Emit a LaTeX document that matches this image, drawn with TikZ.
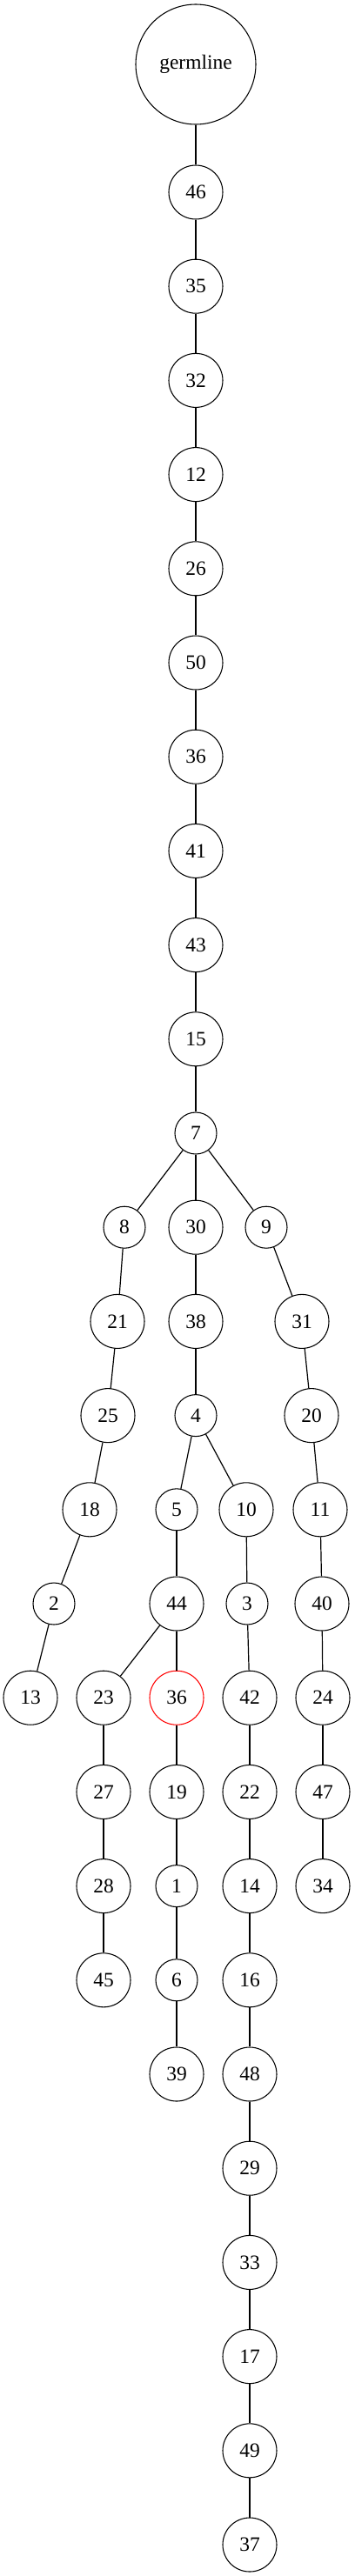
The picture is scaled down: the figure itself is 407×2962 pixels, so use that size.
\documentclass[tikz,border=0pt]{standalone}
\usepackage{fontspec}
\setmainfont{Liberation Serif}

\tikzset{
	tnode/.style={draw, circle, inner sep=0pt, line width=0.8pt, font=\fontsize{17.6}{20}\selectfont},
	one/.style={tnode, minimum size=36pt},
	two/.style={tnode, minimum size=46.5pt},
	link/.style={line width=0.9pt}
}

\begin{document}
\begin{tikzpicture}[x=0.75pt, y=-0.75pt]
				\useasboundingbox (0, 0) rectangle (407, 2962);
				\node[tnode, minimum size=103.5pt] (germ)at(225, 74) {germline};
				\node[two] (n46)at(225, 221) {46};
				\node[two] (n35)at(225, 329.2) {35};
				\node[two] (n32)at(225, 437.4) {32};
				\node[two] (n12)at(225, 545.6) {12};
				\node[two] (n26)at(225, 653.8) {26};
				\node[two] (n50)at(225, 762) {50};
				\node[two] (n36)at(225, 870.2) {36};
				\node[two] (n41)at(225, 978.4) {41};
				\node[two] (n43)at(225, 1086.6) {43};
				\node[two] (n15)at(225, 1194.8) {15};
				\node[one] (n7)at(225, 1303) {7};
				\node[one] (n8)at(143, 1411.2) {8};
				\node[two] (n30)at(225, 1411.2) {30};
				\node[one] (n9)at(306, 1411.2) {9};
				\node[two] (n21)at(135, 1519.4) {21};
				\node[two] (n38)at(225, 1519.4) {38};
				\node[two] (n31)at(347, 1519.4) {31};
				\node[two] (n25)at(124, 1627.6) {25};
				\node[one] (n4)at(225, 1627.6) {4};
				\node[two] (n20)at(358, 1627.6) {20};
				\node[two] (n18)at(103, 1735.8) {18};
				\node[one] (n5)at(203, 1735.8) {5};
				\node[two] (n10)at(283, 1735.8) {10};
				\node[two] (n11)at(368, 1735.8) {11};
				\node[one] (n2)at(62, 1844) {2};
				\node[two] (n44)at(203, 1844) {44};
				\node[one] (n3)at(284, 1844) {3};
				\node[two] (n40)at(370, 1844) {40};
				\node[two] (n13)at(35, 1952.2) {13};
				\node[two] (n23)at(119, 1952.2) {23};
				\node[two, draw=red] (n36r)at(203, 1952.2) {36};
				\node[two] (n42)at(287, 1952.2) {42};
				\node[two] (n24)at(371, 1952.2) {24};
				\node[two] (n27)at(119, 2060.4) {27};
				\node[two] (n19)at(203, 2060.4) {19};
				\node[two] (n22)at(287, 2060.4) {22};
				\node[two] (n47)at(371, 2060.4) {47};
				\node[two] (n28)at(119, 2168.6) {28};
				\node[one] (n1)at(203, 2168.6) {1};
				\node[two] (n14)at(287, 2168.6) {14};
				\node[two] (n34)at(371, 2168.6) {34};
				\node[two] (n45)at(119, 2276.8) {45};
				\node[one] (n6)at(203, 2276.8) {6};
				\node[two] (n16)at(287, 2276.8) {16};
				\node[two] (n39)at(203, 2385) {39};
				\node[two] (n48)at(287, 2385) {48};
				\node[two] (n29)at(287, 2493.2) {29};
				\node[two] (n33)at(287, 2601.4) {33};
				\node[two] (n17)at(287, 2709.6) {17};
				\node[two] (n49)at(287, 2817.8) {49};
				\node[two] (n37)at(287, 2926) {37};
				\foreach \a/\b in {germ/n46, n46/n35, n35/n32, n32/n12, n12/n26, n26/n50, n50/n36, n36/n41, n41/n43, n43/n15, n15/n7,
					n7/n8, n7/n30, n7/n9, n8/n21, n21/n25, n25/n18, n18/n2, n2/n13,
					n30/n38, n38/n4, n4/n5, n4/n10, n5/n44, n44/n23, n44/n36r,
					n23/n27, n27/n28, n28/n45, n36r/n19, n19/n1, n1/n6, n6/n39,
					n10/n3, n3/n42, n42/n22, n22/n14, n14/n16, n16/n48, n48/n29, n29/n33, n33/n17, n17/n49, n49/n37,
					n9/n31, n31/n20, n20/n11, n11/n40, n40/n24, n24/n47, n47/n34}
					\draw[link] (\a) -- (\b);
			\end{tikzpicture}
\end{document}
